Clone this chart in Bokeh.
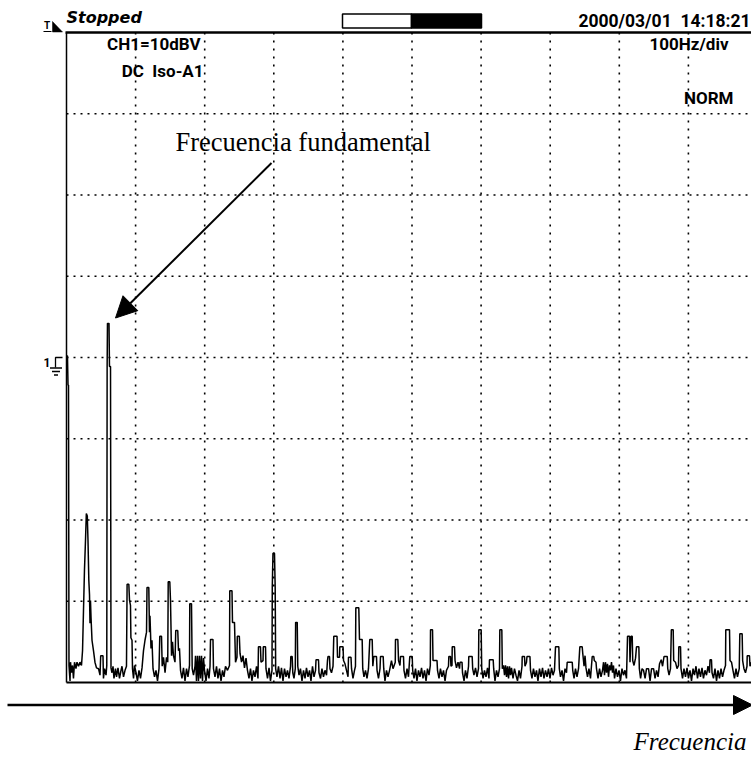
from bokeh.plotting import figure
from bokeh.models import Range1d, Arrow, NormalHead, Label
from bokeh.embed import file_html
from bokeh.resources import INLINE

# ---------------- data ----------------
FREQ_HZ = [
    0, 1.4, 2.2, 2.9, 3.6, 5.1, 5.8, 7.2, 8.7, 10.1,
    11.6, 13.7, 15.2, 17.4, 19.5, 21.7, 23.2, 24.6, 26.0, 27.5,
    28.7, 30.1, 31.1, 32.3, 33.3, 34.0, 34.7, 35.5, 36.9, 39.1,
    41.2, 43.4, 46.3, 48.5, 49.5, 52.8, 53.5, 55.0, 57.2, 58.3,
    58.8, 59.3, 61.5, 62.2, 63.7, 64.4, 65.8, 67.3, 68.7, 70.9,
    72.4, 74.5, 76.7, 78.9, 80.3, 82.5, 84.7, 86.8, 87.7, 90.2,
    91.2, 92.6, 93.2, 94.8, 95.5, 97.0, 98.4, 100.6, 102.7, 104.9,
    107.1, 109.3, 111.4, 113.6, 115.8, 116.5, 119.1, 120.1, 120.8, 122.3,
    123.7, 125.2, 127.4, 129.5, 131.7, 133.9, 135.0, 137.5, 138.5, 140.4,
    142.6, 144.7, 146.5, 147.2, 149.5, 150.5, 152.0, 153.4, 154.8, 157.0,
    158.1, 161.0, 162.1, 163.5, 165.0, 167.1, 169.3, 171.5, 173.7, 175.8,
    178.0, 178.4, 180.9, 181.9, 183.8, 186.0, 186.7, 188.1, 189.6, 191.0,
    192.5, 193.9, 195.4, 196.8, 198.3, 199.7, 201.9, 204.1, 206.2, 207.7,
    208.4, 212.0, 212.7, 214.9, 217.1, 219.2, 221.4, 223.6, 225.8, 227.9,
    230.1, 233.0, 235.9, 236.3, 239.5, 240.2, 243.1, 244.6, 246.7, 247.2,
    250.1, 251.1, 253.3, 255.4, 257.6, 259.8, 261.9, 264.1, 266.3, 268.4,
    270.6, 272.8, 275.0, 277.1, 277.8, 280.7, 281.5, 284.4, 284.8, 288.0,
    288.7, 290.9, 293.1, 295.2, 297.4, 297.8, 298.8, 301.0, 302.0, 302.7,
    304.6, 306.8, 309.0, 311.1, 313.3, 315.5, 317.7, 319.8, 322.0, 324.2,
    324.6, 326.6, 327.5, 329.2, 331.1, 331.6, 333.9, 334.7, 336.5, 338.6,
    340.8, 343.0, 345.2, 347.3, 349.5, 351.7, 353.8, 356.0, 358.2, 360.4,
    361.1, 364.7, 365.4, 367.6, 369.7, 371.9, 374.1, 376.3, 377.7, 378.4,
    380.6, 381.3, 383.5, 385.7, 386.8, 391.5, 392.2, 395.1, 395.5, 400.2,
    400.9, 403.0, 405.2, 407.4, 408.1, 411.7, 412.5, 414.6, 416.8, 418.2,
    418.7, 423.0, 424.0, 427.9, 428.7, 430.5, 432.7, 434.9, 437.0, 438.9,
    442.4, 443.3, 444.7, 448.6, 449.4, 451.5, 453.7, 454.4, 458.3, 459.1,
    460.9, 463.1, 465.3, 467.5, 470.3, 472.5, 475.8, 476.1, 479.5, 480.5,
    482.6, 483.4, 487.7, 488.4, 490.6, 492.8, 494.9, 496.8, 500.3, 501.0,
    502.9, 505.1, 507.2, 509.4, 511.6, 513.8, 515.9, 518.1, 520.3, 522.4,
    524.6, 526.5, 526.8, 529.7, 530.4, 536.2, 536.9, 539.1, 541.2, 543.4,
    545.6, 547.8, 549.9, 552.8, 553.3, 555.7, 556.4, 557.9, 558.2, 561.5,
    562.3, 564.4, 566.6, 568.8, 569.5, 572.4, 573.1, 575.3, 577.4, 579.6,
    581.8, 582.2, 587.1, 587.8, 589.7, 591.9, 594.1, 596.2, 596.7, 600.1,
    600.9, 602.8, 604.9, 607.1, 609.3, 611.4, 612.1, 617.5, 618.2, 620.1,
    622.3, 624.5, 626.6, 627.1, 630.0, 630.7, 632.4, 633.9, 635.3, 636.8,
    638.2, 639.7, 641.1, 642.6, 644.0, 646.2, 648.3, 650.5, 652.7, 654.9,
    657.0, 659.2, 659.5, 662.8, 663.5, 665.7, 666.4, 670.7, 671.5, 673.6,
    675.8, 678.0, 680.2, 682.3, 684.5, 686.7, 688.9, 691.0, 693.2, 695.4,
    697.5, 699.7, 701.9, 704.1, 706.2, 707.7, 712.5, 713.2, 714.9, 717.1,
    719.3, 721.4, 723.6, 724.6, 731.9, 732.6, 734.5, 736.6, 738.8, 741.0,
    742.9, 746.3, 747.1, 749.0, 750.4, 751.8, 754.0, 756.1, 758.3, 760.8,
    763.1, 763.8, 766.3, 767.0, 769.2, 771.4, 773.5, 775.7, 777.2, 778.6,
    780.0, 781.5, 782.9, 784.4, 785.8, 787.3, 788.7, 790.2, 791.6, 793.1,
    795.2, 797.4, 799.6, 801.7, 803.9, 806.1, 808.2, 810.4, 811.9, 814.8,
    815.5, 816.9, 818.7, 819.4, 821.3, 823.5, 824.9, 828.3, 829.0, 830.8,
    832.9, 835.1, 837.3, 839.4, 842.3, 844.5, 846.7, 849.6, 851.7, 853.9,
    856.1, 858.2, 860.7, 862.6, 864.7, 869.4, 870.1, 872.0, 874.1, 875.3,
    878.0, 878.7, 881.3, 883.5, 885.7, 886.1, 888.6, 889.3, 891.5, 893.6,
    895.8, 898.0, 900.1, 902.3, 904.5, 906.7, 908.8, 911.0, 913.2, 915.3,
    917.5, 919.7, 921.8, 924.0, 926.2, 928.4, 930.5, 931.3, 933.4, 934.2,
    936.3, 938.5, 940.7, 942.8, 945.0, 947.2, 949.4, 951.5, 953.7, 954.1,
    959.5, 960.2, 962.4, 964.5, 966.7, 968.9, 971.0, 973.6, 974.4, 977.8,
    978.5, 980.4, 982.6, 984.8, 985.1, 988.4, 989.1, 991.3,
]
LEVEL_DBV = [
    0.2, 0.2, -3.4, -3.4, -37.9, -39.8, -37.5, -38.8, -37.9, -39.5,
    -37.5, -38.3, -37.5, -38.0, -37.5, -37.9, -36.1, -31.1, -26.2, -22.5,
    -19.2, -19.5, -22.5, -27.4, -29.2, -32.7, -29.9, -32.0, -34.8, -36.1,
    -37.5, -38.2, -38.3, -39.1, -36.7, -36.7, -39.5, -38.3, -39.1, -37.9,
    -1.1, 4.2, 4.2, -1.1, -1.1, -38.2, -38.8, -38.0, -39.5, -38.3,
    -39.3, -38.2, -39.5, -38.5, -38.0, -39.3, -38.5, -38.0, -27.9, -27.9,
    -29.9, -30.5, -34.5, -34.8, -38.3, -39.5, -37.9, -38.8, -39.8, -38.5,
    -39.5, -38.2, -36.1, -34.8, -33.8, -28.3, -28.3, -33.8, -31.8, -35.8,
    -34.8, -38.3, -39.3, -38.5, -39.8, -38.3, -34.3, -34.3, -38.0, -36.9,
    -38.8, -36.9, -37.5, -27.6, -27.6, -29.9, -36.7, -35.0, -36.7, -37.5,
    -33.6, -33.6, -36.1, -35.8, -38.5, -39.5, -38.2, -39.8, -38.3, -39.3,
    -37.9, -30.3, -30.3, -38.3, -39.1, -38.0, -36.7, -39.8, -36.7, -39.8,
    -36.7, -39.5, -36.7, -39.8, -37.0, -38.5, -39.8, -38.3, -39.5, -38.0,
    -34.7, -34.7, -38.3, -39.3, -38.0, -39.5, -38.3, -39.8, -38.5, -39.3,
    -38.0, -38.5, -37.9, -28.7, -28.7, -32.6, -32.6, -37.5, -36.9, -34.3,
    -34.3, -36.4, -37.5, -36.7, -38.2, -37.0, -38.5, -39.5, -38.3, -39.8,
    -38.5, -39.3, -38.0, -39.5, -35.6, -35.6, -37.5, -37.3, -35.6, -35.6,
    -38.3, -39.5, -38.2, -39.8, -38.5, -28.3, -24.1, -24.1, -28.3, -38.3,
    -39.3, -38.0, -39.5, -38.2, -39.8, -38.3, -39.3, -38.5, -39.5, -38.0,
    -36.8, -36.8, -38.8, -39.5, -38.3, -32.6, -32.6, -38.0, -39.1, -38.3,
    -39.8, -38.5, -39.5, -38.2, -39.3, -38.5, -39.8, -38.0, -39.3, -38.5,
    -37.2, -37.2, -38.8, -39.5, -38.3, -39.3, -38.5, -39.1, -37.3, -36.8,
    -36.8, -38.3, -38.8, -38.0, -34.3, -34.3, -36.9, -36.9, -35.6, -35.6,
    -37.3, -37.7, -38.5, -39.3, -36.9, -36.9, -38.3, -39.5, -38.5, -38.0,
    -30.8, -30.8, -34.7, -34.7, -38.3, -39.3, -38.5, -39.5, -38.3, -34.7,
    -34.7, -38.0, -36.8, -36.8, -38.5, -39.5, -38.3, -36.8, -36.8, -38.3,
    -39.8, -38.5, -39.3, -38.5, -37.3, -38.3, -37.5, -34.7, -34.7, -37.3,
    -37.9, -36.8, -36.8, -38.5, -39.5, -38.3, -39.3, -36.8, -36.8, -38.5,
    -39.5, -38.3, -39.8, -38.5, -39.3, -38.2, -39.5, -38.5, -39.8, -38.3,
    -39.1, -37.9, -33.5, -33.5, -37.3, -37.3, -38.5, -39.5, -38.3, -39.3,
    -38.5, -39.8, -38.5, -38.0, -36.8, -36.8, -38.0, -37.9, -35.6, -35.6,
    -37.3, -38.2, -37.5, -38.3, -37.5, -37.5, -38.8, -39.8, -38.5, -39.5,
    -38.0, -36.8, -36.8, -38.3, -39.1, -38.2, -39.3, -38.3, -33.5, -33.5,
    -38.3, -39.5, -38.5, -39.3, -38.2, -39.5, -37.2, -37.2, -38.3, -39.8,
    -38.5, -39.3, -38.3, -33.5, -33.5, -38.3, -37.9, -39.1, -37.9, -39.3,
    -38.0, -39.5, -38.0, -39.1, -38.2, -39.5, -38.3, -39.1, -39.8, -38.5,
    -39.5, -38.0, -36.8, -36.8, -38.0, -37.5, -36.8, -36.8, -38.5, -39.5,
    -38.3, -39.3, -38.5, -39.8, -38.3, -39.3, -38.2, -39.5, -38.5, -39.3,
    -38.3, -39.5, -38.2, -39.1, -38.5, -35.6, -35.6, -38.3, -39.3, -38.5,
    -39.8, -38.3, -38.8, -37.5, -37.5, -38.5, -39.5, -38.3, -39.3, -38.3,
    -35.6, -35.6, -36.4, -38.0, -36.7, -38.2, -39.3, -38.3, -39.5, -36.8,
    -36.8, -37.3, -37.5, -38.3, -39.5, -38.3, -39.3, -38.5, -37.5, -39.1,
    -37.5, -38.8, -37.7, -39.3, -37.9, -38.5, -37.5, -38.8, -37.9, -39.5,
    -38.3, -39.3, -38.5, -39.8, -38.3, -39.1, -38.5, -39.5, -34.3, -34.3,
    -37.5, -34.3, -34.3, -37.3, -37.9, -37.0, -35.6, -35.6, -38.3, -39.5,
    -38.3, -38.5, -39.5, -38.3, -38.3, -39.8, -38.3, -38.3, -39.5, -38.5,
    -39.3, -37.7, -37.2, -38.0, -36.8, -36.8, -38.3, -39.1, -38.3, -33.5,
    -33.5, -37.3, -37.5, -38.3, -37.9, -35.6, -35.6, -38.3, -39.5, -38.3,
    -39.3, -38.2, -39.5, -38.5, -39.8, -38.3, -39.1, -38.0, -39.5, -38.3,
    -39.3, -38.2, -39.5, -38.5, -39.1, -38.0, -38.8, -37.2, -37.2, -38.8,
    -39.5, -38.3, -39.8, -38.5, -39.5, -38.3, -39.3, -38.5, -37.9, -33.5,
    -33.5, -37.3, -37.5, -38.5, -39.5, -38.3, -39.3, -38.3, -34.0, -34.0,
    -37.3, -38.3, -38.8, -38.0, -36.7, -36.7, -38.0, -37.5,
]
GRID_FREQ_HZ = [100, 200, 300, 400, 500, 600, 700, 800, 900]
GRID_LEVEL_DBV = [-30, -20, -10, 0, 10, 20, 30]
SCREEN_FREQ_HZ = [0, 1000]
SCREEN_LEVEL_DBV = [-40, 40]
CH1_REF_DBV = 0

STATUS_TEXT = "Stopped"
TIMESTAMP_TEXT = "2000/03/01\u00a0\u00a014:18:21"
CH_SCALE_TEXT = "CH1=10dBV"
CH_COUPLING_TEXT = "DC\u00a0\u00a0Iso-A1"
H_SCALE_TEXT = "100Hz/div"
TRIGGER_TEXT = "NORM"
CH_MARK_TEXT = "1"
ANNOTATION_TEXT = "Frecuencia fundamental"
AXIS_LABEL_TEXT = "Frecuencia"

# ---------------- layout (page pixels) ----------------
W, H = 751, 758
M = 0                      # figure origin on the page
FRAME_LEFT = 66            # page px of 0 Hz
FRAME_BOTTOM = 682         # page px of bottom screen line
PX_XDIV = 69.1
PX_YDIV = 81.25
HZ_DIV = 100
DB_DIV = 10
BASE_SHIFT = 0.36          # rendered baseline sits this many font-sizes lower

x_start = SCREEN_FREQ_HZ[0] - (FRAME_LEFT - M) / PX_XDIV * HZ_DIV
x_end = x_start + W / PX_XDIV * HZ_DIV
y_start = SCREEN_LEVEL_DBV[0] - (M + H - FRAME_BOTTOM) / PX_YDIV * DB_DIV
y_end = y_start + H / PX_YDIV * DB_DIV


def hx(px):
    return x_start + (px - M) / PX_XDIV * HZ_DIV


def dy(py):
    return y_end - (py - M) / PX_YDIV * DB_DIV


def label(txt, x_px, base_px, size, font, style="normal", align="left"):
    return Label(x=hx(x_px), y=dy(base_px - BASE_SHIFT * size), text=txt,
                 text_font=font, text_font_style=style, text_font_size=f"{size}px",
                 text_align=align, text_baseline="alphabetic", text_color="black")


p = figure(width=W, height=H, x_range=Range1d(x_start, x_end),
           y_range=Range1d(y_start, y_end), output_backend="svg",
           toolbar_location=None, x_axis_type=None, y_axis_type=None,
           min_border=0, outline_line_color=None)
p.background_fill_color = "white"
p.border_fill_color = "white"

# dotted graticule
nv = len(GRID_FREQ_HZ)
p.segment(x0=GRID_FREQ_HZ, y0=[SCREEN_LEVEL_DBV[1]] * nv, x1=GRID_FREQ_HZ,
          y1=[SCREEN_LEVEL_DBV[0]] * nv, line_color="black", line_width=1.6,
          line_dash="2 6")
nh = len(GRID_LEVEL_DBV)
p.segment(x0=[SCREEN_FREQ_HZ[0]] * nh, y0=GRID_LEVEL_DBV, x1=[x_end] * nh,
          y1=GRID_LEVEL_DBV, line_color="black", line_width=1.6,
          line_dash="2 5")

# screen frame
p.line([SCREEN_FREQ_HZ[0]] * 2, SCREEN_LEVEL_DBV, line_color="black", line_width=1.5)
p.line([hx(65), x_end], [SCREEN_LEVEL_DBV[1]] * 2, line_color="black", line_width=2.5)
p.line([SCREEN_FREQ_HZ[0], x_end], [SCREEN_LEVEL_DBV[0]] * 2, line_color="black", line_width=2)

# spectrum trace
p.line(FREQ_HZ, LEVEL_DBV, line_color="black", line_width=1.5)

# header
scope_font = "Roboto"
p.add_layout(label(STATUS_TEXT, 66, 23, 16, "DejaVu Sans", "bold italic"))
p.quad(left=[hx(342)], right=[hx(411)], top=[dy(13.5)], bottom=[dy(27.5)],
       fill_color="white", line_color="black", line_width=1.5)
p.quad(left=[hx(411)], right=[hx(481)], top=[dy(13.5)], bottom=[dy(27.5)],
       fill_color="black", line_color="black", line_width=1.5)
p.add_layout(label(TIMESTAMP_TEXT, 750, 27, 17.5, scope_font, "bold", "right"))

# trigger mark
p.add_layout(label("T", 43.5, 29, 10, scope_font, "bold"))
p.segment(x0=[hx(43)], y0=[dy(31)], x1=[hx(51)], y1=[dy(31)], line_color="black", line_width=1.2)
p.patch([hx(52), hx(52), hx(62)], [dy(21), dy(31.5), dy(31.5)], fill_color="black",
        line_color="black", line_width=0.5)

# screen texts
for txt, xr, yb in [(CH_SCALE_TEXT, 200, 50), (CH_COUPLING_TEXT, 203, 77),
                    (H_SCALE_TEXT, 728, 50), (TRIGGER_TEXT, 733, 103.5)]:
    p.add_layout(label(txt, xr, yb, 17, scope_font, "bold", "right"))

# channel 1 reference (ground) marker
gy = CH1_REF_DBV
p.add_layout(label(CH_MARK_TEXT, 50, 366, 12, scope_font, "bold", "right"))
p.multi_line(xs=[[hx(62), hx(55), hx(55)], [hx(49.5), hx(61.5)], [hx(51.5), hx(59.5)], [hx(53.5), hx(57.5)]],
             ys=[[gy, gy, dy(367)], [dy(367.5)] * 2, [dy(371)] * 2, [dy(374.5)] * 2],
             line_color="black", line_width=1.3)

# annotation
p.add_layout(label(ANNOTATION_TEXT, 175, 151.5, 26.5, "Liberation Serif"))
p.add_layout(Arrow(end=NormalHead(size=21, fill_color="black", line_color="black", line_width=1),
                   x_start=hx(271), y_start=dy(162.5), x_end=hx(115), y_end=dy(317.5),
                   line_color="black", line_width=2))

# frequency axis arrow + label
p.add_layout(Arrow(end=NormalHead(size=19, fill_color="black", line_color="black", line_width=1),
                   x_start=hx(7), y_start=dy(704.5), x_end=hx(752), y_end=dy(704.5),
                   line_color="black", line_width=2.5))
p.add_layout(label(AXIS_LABEL_TEXT, 746, 750, 25, "Liberation Serif", "italic", "right"))

open("out.html", "w").write(file_html(p, INLINE))
